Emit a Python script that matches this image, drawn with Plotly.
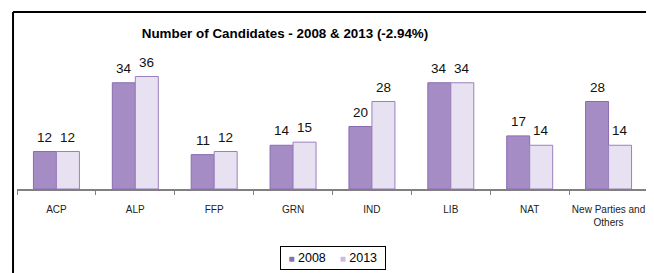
import plotly.graph_objects as go

categories = ["ACP", "ALP", "FFP", "GRN", "IND", "LIB", "NAT", "New Parties and<br>Others"]
values_2008 = [12, 34, 11, 14, 20, 34, 17, 28]
values_2013 = [12, 36, 12, 15, 28, 34, 14, 14]
series_names = ["2008", "2013"]
colors = ["#a58cc5", "#e8e1f1"]
line_colors = ["#8a6cb2", "#9a80bd"]

FONT = "Liberation Sans, Arial"

fig = go.Figure()
for name, vals, c, lc in zip(series_names, [values_2008, values_2013], colors, line_colors):
    fig.add_trace(go.Bar(
        x=categories, y=vals, name=name,
        marker=dict(color=c, line=dict(color=lc, width=1)),
    ))

annotations = []
for cat, v1, v2 in zip(categories, values_2008, values_2013):
    for v, shift in ((v1, -11.5), (v2, 11.5)):
        annotations.append(dict(
            x=cat, y=v, xref="x", yref="y", text=str(v), showarrow=False,
            xshift=shift, yshift=5, yanchor="bottom",
            font=dict(family=FONT, size=13.5, color="#111"),
        ))

# compact legend box, as in the reference
legend_text = (f"&nbsp;<span style='color:{line_colors[0]};font-size:10px'>■</span> {series_names[0]}"
               f"&nbsp;&nbsp;&nbsp;&nbsp;<span style='color:#cbbde0;font-size:10px'>■</span> {series_names[1]}&nbsp;")
annotations.append(dict(
    x=0.5, y=-0.456, xref="paper", yref="paper", xanchor="center", yanchor="top",
    text=legend_text, showarrow=False, bordercolor="black", borderwidth=1, borderpad=4,
    font=dict(family=FONT, size=12.5, color="black"),
))

shapes = [
    dict(type="line", xref="paper", yref="paper", x0=-0.0063, x1=-0.0063, y0=-1.0, y1=1.416,
         line=dict(color="black", width=2)),
    dict(type="line", xref="paper", yref="paper", x0=-0.0063, x1=1.2, y0=1.416, y1=1.416,
         line=dict(color="black", width=2)),
]

fig.update_layout(
    width=654, height=273,
    margin=dict(l=9, r=14, t=56, b=92, autoexpand=False),
    paper_bgcolor="white", plot_bgcolor="white",
    barmode="group", bargap=0.417, bargroupgap=0,
    title=dict(text="<b>Number of Candidates - 2008 & 2013 (-2.94%)</b>",
               x=277/654, xref="container", xanchor="center",
               y=1-25/273, yref="container", yanchor="middle",
               font=dict(family=FONT, size=13.4, color="black")),
    xaxis=dict(showline=True, linecolor="#808080", linewidth=1.5, automargin=False,
               ticks="outside", tickson="boundaries", ticklen=4, tickcolor="#808080",
               tickangle=0, ticklabelstandoff=10,
               tickfont=dict(family=FONT, size=10, color="#222"),
               showgrid=False),
    yaxis=dict(range=[0, 40], visible=False, showgrid=False),
    showlegend=False,
    annotations=annotations,
    shapes=shapes,
)

fig.write_html("out.html")
